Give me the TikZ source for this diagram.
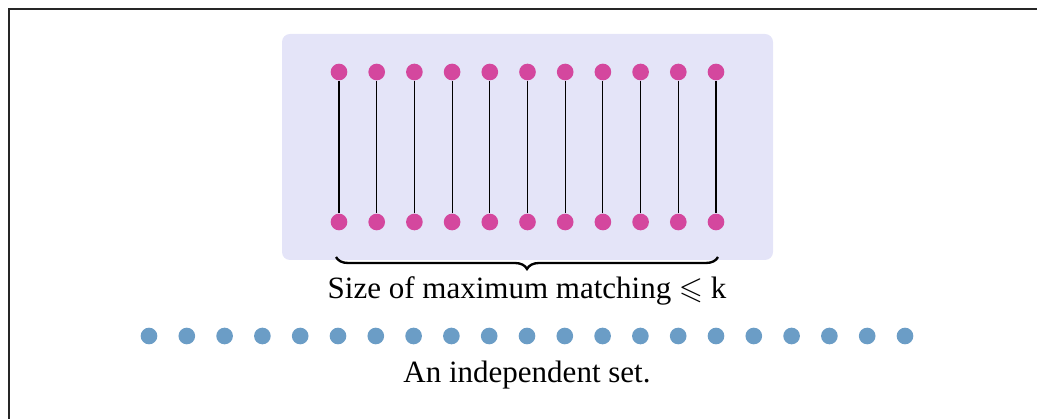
\documentclass[tikz,border=0pt]{standalone}
\usepackage{amssymb}
\usepackage{fontspec}
\setmainfont{Liberation Serif}
\usetikzlibrary{decorations.pathreplacing}
\definecolor{matchbg}{HTML}{E4E4F8}
\definecolor{matchpink}{HTML}{D4479E}
\definecolor{indblue}{HTML}{6B9DC6}
\tikzset{>=latex,
  pinkdot/.style={circle, fill=matchpink, inner sep=0pt, minimum size=5pt},
  bluedot/.style={circle, fill=indblue, inner sep=0pt, minimum size=5pt},
  label text/.style={font=\fontsize{9.3}{11}\selectfont}}

\begin{document}
\begin{tikzpicture}[x=0.3pt, y=-0.3pt]
        \useasboundingbox (0,0) rectangle (1037,419);
        % outer frame, only top and left edges are visible
        \draw[line width=0.6pt, black!85] (1037,9) -- (9,9) -- (9,419);

        % shaded box round the matching
        \fill[matchbg, rounded corners=2.4pt] (282,34) rectangle (773,260);

        % matched pairs
        \foreach \i in {1,...,11} {
            \node[pinkdot] (t\i) at ({339+37.7*(\i-1)},72) {};
            \node[pinkdot] (b\i) at ({339+37.7*(\i-1)},222) {};
            \draw[line width=0.35pt] (t\i) -- (b\i);
        }

        \coordinate (bl) at (336,257);
        \coordinate (br) at (718,257);
        \draw[line width=0.7pt, decorate, decoration={brace, mirror, amplitude=3.6pt}] (bl) -- (br);
        \node[label text] (msize) at (527,291) {Size of maximum matching $\leqslant$ k};

        % independent set
        \foreach \i in {1,...,21}
            \node[bluedot] (i\i) at ({149+37.8*(\i-1)},336) {};
        \node[label text] (indset) at (527,375) {An independent set.};
\end{tikzpicture}
\end{document}
